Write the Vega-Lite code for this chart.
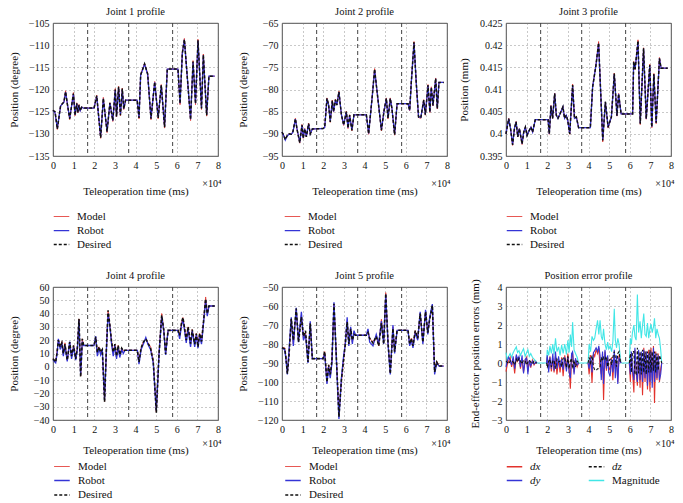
{
"$schema":"https://vega.github.io/schema/vega-lite/v6.json",
"padding":{"left":7,"top":6,"right":0,"bottom":0},
"datasets":{
"vlines":[{"t":1.68},{"t":3.67},{"t":5.8}],
"j1":[
{"t":0,"Model":-124.7,"Robot":-124.7,"Desired":-124.7},
{"t":0.1,"Model":-125.2,"Robot":-125.3,"Desired":-125.0},
{"t":0.21,"Model":-129.0,"Robot":-128.8,"Desired":-128.9},
{"t":0.37,"Model":-123.6,"Robot":-123.7,"Desired":-123.6},
{"t":0.53,"Model":-122.8,"Robot":-122.9,"Desired":-122.8},
{"t":0.61,"Model":-120.3,"Robot":-120.6,"Desired":-120.5},
{"t":0.7,"Model":-123.5,"Robot":-123.3,"Desired":-123.4},
{"t":0.81,"Model":-126.8,"Robot":-126.5,"Desired":-126.6},
{"t":0.99,"Model":-120.7,"Robot":-121.0,"Desired":-120.9},
{"t":1.07,"Model":-125.9,"Robot":-125.7,"Desired":-125.8},
{"t":1.15,"Model":-123.0,"Robot":-123.2,"Desired":-123.1},
{"t":1.2,"Model":-125.3,"Robot":-125.1,"Desired":-125.2},
{"t":1.26,"Model":-123.4,"Robot":-123.6,"Desired":-123.5},
{"t":1.32,"Model":-124.9,"Robot":-124.8,"Desired":-124.8},
{"t":1.39,"Model":-123.9,"Robot":-124.0,"Desired":-124.0},
{"t":1.47,"Model":-124.2,"Robot":-124.2,"Desired":-124.2},
{"t":1.99,"Model":-124.2,"Robot":-124.2,"Desired":-124.2},
{"t":2.12,"Model":-121.3,"Robot":-121.5,"Desired":-121.4},
{"t":2.31,"Model":-131.0,"Robot":-130.7,"Desired":-130.9},
{"t":2.44,"Model":-121.8,"Robot":-122.1,"Desired":-122.0},
{"t":2.62,"Model":-129.7,"Robot":-129.4,"Desired":-129.5},
{"t":2.76,"Model":-123.0,"Robot":-123.1,"Desired":-123.0},
{"t":2.9,"Model":-127.2,"Robot":-127.0,"Desired":-127.0},
{"t":3.02,"Model":-119.8,"Robot":-120.1,"Desired":-120.0},
{"t":3.08,"Model":-126.2,"Robot":-126.0,"Desired":-126.1},
{"t":3.18,"Model":-119.3,"Robot":-119.6,"Desired":-119.4},
{"t":3.27,"Model":-125.9,"Robot":-125.6,"Desired":-125.8},
{"t":3.36,"Model":-119.7,"Robot":-120.0,"Desired":-119.8},
{"t":3.43,"Model":-124.5,"Robot":-124.3,"Desired":-124.4},
{"t":3.52,"Model":-122.4,"Robot":-122.4,"Desired":-122.4},
{"t":4.08,"Model":-122.4,"Robot":-122.4,"Desired":-122.4},
{"t":4.17,"Model":-126.6,"Robot":-126.3,"Desired":-126.4},
{"t":4.25,"Model":-116.6,"Robot":-116.8,"Desired":-116.7},
{"t":4.44,"Model":-114.1,"Robot":-114.3,"Desired":-114.2},
{"t":4.59,"Model":-116.4,"Robot":-116.6,"Desired":-116.5},
{"t":4.75,"Model":-126.8,"Robot":-126.5,"Desired":-126.6},
{"t":4.93,"Model":-118.2,"Robot":-118.4,"Desired":-118.3},
{"t":5.1,"Model":-126.6,"Robot":-126.3,"Desired":-126.4},
{"t":5.25,"Model":-118.9,"Robot":-119.1,"Desired":-119.0},
{"t":5.41,"Model":-128.7,"Robot":-128.4,"Desired":-128.5},
{"t":5.54,"Model":-115.4,"Robot":-115.4,"Desired":-115.4},
{"t":6.06,"Model":-115.4,"Robot":-115.4,"Desired":-115.4},
{"t":6.16,"Model":-123.4,"Robot":-123.1,"Desired":-123.2},
{"t":6.27,"Model":-111.6,"Robot":-111.9,"Desired":-111.8},
{"t":6.37,"Model":-108.5,"Robot":-108.8,"Desired":-108.7},
{"t":6.67,"Model":-127.0,"Robot":-126.7,"Desired":-126.8},
{"t":6.79,"Model":-113.5,"Robot":-113.8,"Desired":-113.7},
{"t":6.91,"Model":-123.4,"Robot":-123.1,"Desired":-123.2},
{"t":7.03,"Model":-108.7,"Robot":-109.0,"Desired":-108.9},
{"t":7.2,"Model":-124.5,"Robot":-124.2,"Desired":-124.3},
{"t":7.29,"Model":-112.0,"Robot":-112.3,"Desired":-112.2},
{"t":7.45,"Model":-126.0,"Robot":-125.7,"Desired":-125.8},
{"t":7.56,"Model":-117.0,"Robot":-117.0,"Desired":-117.0},
{"t":7.84,"Model":-117.0,"Robot":-117.0,"Desired":-117.0}
],
"j2":[
{"t":0,"Model":-89.6,"Robot":-89.6,"Desired":-89.6},
{"t":0.08,"Model":-90.3,"Robot":-90.4,"Desired":-90.3},
{"t":0.16,"Model":-91.2,"Robot":-91.4,"Desired":-91.3},
{"t":0.25,"Model":-90.4,"Robot":-90.5,"Desired":-90.4},
{"t":0.34,"Model":-90.0,"Robot":-90.1,"Desired":-90.0},
{"t":0.45,"Model":-90.1,"Robot":-90.1,"Desired":-90.1},
{"t":0.53,"Model":-89.5,"Robot":-89.6,"Desired":-89.5},
{"t":0.65,"Model":-86.5,"Robot":-86.7,"Desired":-86.6},
{"t":0.73,"Model":-89.0,"Robot":-88.9,"Desired":-89.0},
{"t":0.86,"Model":-92.1,"Robot":-91.9,"Desired":-92.0},
{"t":0.97,"Model":-87.9,"Robot":-88.1,"Desired":-88.0},
{"t":1.03,"Model":-91.0,"Robot":-90.9,"Desired":-91.0},
{"t":1.1,"Model":-88.8,"Robot":-88.9,"Desired":-88.9},
{"t":1.18,"Model":-90.7,"Robot":-90.6,"Desired":-90.7},
{"t":1.29,"Model":-87.6,"Robot":-87.8,"Desired":-87.7},
{"t":1.37,"Model":-90.1,"Robot":-90.0,"Desired":-90.0},
{"t":1.47,"Model":-88.9,"Robot":-88.9,"Desired":-88.9},
{"t":1.99,"Model":-88.8,"Robot":-88.8,"Desired":-88.8},
{"t":2.07,"Model":-88.5,"Robot":-88.6,"Desired":-88.5},
{"t":2.18,"Model":-81.9,"Robot":-82.1,"Desired":-82.0},
{"t":2.26,"Model":-83.4,"Robot":-83.5,"Desired":-83.5},
{"t":2.34,"Model":-87.4,"Robot":-87.2,"Desired":-87.3},
{"t":2.44,"Model":-82.4,"Robot":-82.6,"Desired":-82.5},
{"t":2.5,"Model":-85.1,"Robot":-85.0,"Desired":-85.0},
{"t":2.59,"Model":-82.2,"Robot":-82.4,"Desired":-82.3},
{"t":2.66,"Model":-83.5,"Robot":-83.5,"Desired":-83.5},
{"t":2.76,"Model":-80.4,"Robot":-80.6,"Desired":-80.5},
{"t":2.88,"Model":-85.8,"Robot":-85.6,"Desired":-85.7},
{"t":2.99,"Model":-88.1,"Robot":-87.9,"Desired":-88.0},
{"t":3.12,"Model":-84.9,"Robot":-85.1,"Desired":-85.0},
{"t":3.2,"Model":-88.8,"Robot":-88.6,"Desired":-88.7},
{"t":3.28,"Model":-85.7,"Robot":-85.9,"Desired":-85.8},
{"t":3.39,"Model":-89.3,"Robot":-89.1,"Desired":-89.2},
{"t":3.49,"Model":-85.7,"Robot":-85.7,"Desired":-85.7},
{"t":4.09,"Model":-85.7,"Robot":-85.7,"Desired":-85.7},
{"t":4.2,"Model":-90.1,"Robot":-89.9,"Desired":-90.0},
{"t":4.38,"Model":-81.2,"Robot":-81.4,"Desired":-81.3},
{"t":4.49,"Model":-75.3,"Robot":-75.6,"Desired":-75.4},
{"t":4.6,"Model":-80.2,"Robot":-80.0,"Desired":-80.1},
{"t":4.82,"Model":-89.3,"Robot":-89.1,"Desired":-89.2},
{"t":4.95,"Model":-84.6,"Robot":-84.8,"Desired":-84.7},
{"t":5.06,"Model":-81.9,"Robot":-82.1,"Desired":-82.0},
{"t":5.14,"Model":-86.6,"Robot":-86.4,"Desired":-86.5},
{"t":5.25,"Model":-81.9,"Robot":-82.1,"Desired":-82.0},
{"t":5.33,"Model":-84.3,"Robot":-84.2,"Desired":-84.3},
{"t":5.46,"Model":-90.3,"Robot":-90.1,"Desired":-90.2},
{"t":5.58,"Model":-83.2,"Robot":-83.2,"Desired":-83.2},
{"t":6.11,"Model":-83.2,"Robot":-83.2,"Desired":-83.2},
{"t":6.19,"Model":-84.8,"Robot":-84.7,"Desired":-84.7},
{"t":6.27,"Model":-78.2,"Robot":-78.4,"Desired":-78.3},
{"t":6.4,"Model":-69.2,"Robot":-69.5,"Desired":-69.3},
{"t":6.51,"Model":-78.7,"Robot":-78.5,"Desired":-78.6},
{"t":6.62,"Model":-86.3,"Robot":-86.1,"Desired":-86.2},
{"t":6.73,"Model":-86.5,"Robot":-86.3,"Desired":-86.4},
{"t":6.87,"Model":-82.3,"Robot":-82.5,"Desired":-82.4},
{"t":6.95,"Model":-85.8,"Robot":-85.6,"Desired":-85.7},
{"t":7.08,"Model":-78.9,"Robot":-79.1,"Desired":-79.0},
{"t":7.17,"Model":-85.2,"Robot":-85.0,"Desired":-85.1},
{"t":7.24,"Model":-79.4,"Robot":-79.6,"Desired":-79.5},
{"t":7.32,"Model":-83.7,"Robot":-83.6,"Desired":-83.6},
{"t":7.45,"Model":-77.4,"Robot":-77.6,"Desired":-77.5},
{"t":7.53,"Model":-84.4,"Robot":-84.2,"Desired":-84.3},
{"t":7.61,"Model":-78.4,"Robot":-78.4,"Desired":-78.4},
{"t":7.84,"Model":-78.4,"Robot":-78.4,"Desired":-78.4}
],
"j3":[
{"t":0,"Model":0.4,"Robot":0.4,"Desired":0.4},
{"t":0.13,"Model":0.4035,"Robot":0.4034,"Desired":0.4034},
{"t":0.22,"Model":0.4013,"Robot":0.4012,"Desired":0.4012},
{"t":0.32,"Model":0.3974,"Robot":0.3976,"Desired":0.3975},
{"t":0.41,"Model":0.4012,"Robot":0.4012,"Desired":0.4012},
{"t":0.49,"Model":0.4028,"Robot":0.4027,"Desired":0.4027},
{"t":0.57,"Model":0.3993,"Robot":0.3994,"Desired":0.3993},
{"t":0.65,"Model":0.4012,"Robot":0.4012,"Desired":0.4012},
{"t":0.78,"Model":0.3976,"Robot":0.3978,"Desired":0.3977},
{"t":0.86,"Model":0.4004,"Robot":0.4004,"Desired":0.4004},
{"t":0.94,"Model":0.4016,"Robot":0.4015,"Desired":0.4015},
{"t":1.02,"Model":0.3996,"Robot":0.3997,"Desired":0.3996},
{"t":1.13,"Model":0.4008,"Robot":0.4008,"Desired":0.4008},
{"t":1.21,"Model":0.4016,"Robot":0.4015,"Desired":0.4015},
{"t":1.29,"Model":0.4003,"Robot":0.4004,"Desired":0.4004},
{"t":1.42,"Model":0.4032,"Robot":0.4032,"Desired":0.4032},
{"t":2.04,"Model":0.4032,"Robot":0.4032,"Desired":0.4032},
{"t":2.1,"Model":0.3999,"Robot":0.4,"Desired":0.4},
{"t":2.18,"Model":0.4064,"Robot":0.4063,"Desired":0.4063},
{"t":2.26,"Model":0.4035,"Robot":0.4035,"Desired":0.4035},
{"t":2.36,"Model":0.4092,"Robot":0.4091,"Desired":0.4091},
{"t":2.44,"Model":0.4042,"Robot":0.4042,"Desired":0.4042},
{"t":2.52,"Model":0.4035,"Robot":0.4035,"Desired":0.4035},
{"t":2.63,"Model":0.4046,"Robot":0.4046,"Desired":0.4046},
{"t":2.76,"Model":0.4062,"Robot":0.4061,"Desired":0.4061},
{"t":2.84,"Model":0.4035,"Robot":0.4035,"Desired":0.4035},
{"t":2.92,"Model":0.4042,"Robot":0.4042,"Desired":0.4042},
{"t":2.99,"Model":0.4031,"Robot":0.4031,"Desired":0.4031},
{"t":3.09,"Model":0.3999,"Robot":0.4,"Desired":0.4},
{"t":3.23,"Model":0.4112,"Robot":0.4109,"Desired":0.411},
{"t":3.32,"Model":0.4035,"Robot":0.4035,"Desired":0.4035},
{"t":3.41,"Model":0.4039,"Robot":0.4038,"Desired":0.4038},
{"t":3.52,"Model":0.4014,"Robot":0.4014,"Desired":0.4014},
{"t":4.09,"Model":0.4014,"Robot":0.4014,"Desired":0.4014},
{"t":4.2,"Model":0.4106,"Robot":0.4106,"Desired":0.4106},
{"t":4.36,"Model":0.4155,"Robot":0.4154,"Desired":0.4154},
{"t":4.49,"Model":0.4208,"Robot":0.4203,"Desired":0.4205},
{"t":4.59,"Model":0.4095,"Robot":0.4095,"Desired":0.4095},
{"t":4.69,"Model":0.3982,"Robot":0.3987,"Desired":0.3985},
{"t":4.82,"Model":0.4072,"Robot":0.4072,"Desired":0.4072},
{"t":4.95,"Model":0.4013,"Robot":0.4015,"Desired":0.4015},
{"t":5.11,"Model":0.4038,"Robot":0.4038,"Desired":0.4038},
{"t":5.25,"Model":0.4137,"Robot":0.4135,"Desired":0.4136},
{"t":5.38,"Model":0.404,"Robot":0.4041,"Desired":0.4041},
{"t":5.46,"Model":0.4091,"Robot":0.409,"Desired":0.409},
{"t":5.58,"Model":0.4045,"Robot":0.4045,"Desired":0.4045},
{"t":6.14,"Model":0.4045,"Robot":0.4045,"Desired":0.4045},
{"t":6.19,"Model":0.4163,"Robot":0.4162,"Desired":0.4163},
{"t":6.26,"Model":0.4145,"Robot":0.4146,"Desired":0.4146},
{"t":6.4,"Model":0.4212,"Robot":0.4207,"Desired":0.421},
{"t":6.51,"Model":0.4021,"Robot":0.4024,"Desired":0.4023},
{"t":6.67,"Model":0.4194,"Robot":0.4192,"Desired":0.4193},
{"t":6.8,"Model":0.4033,"Robot":0.4034,"Desired":0.4034},
{"t":6.97,"Model":0.4157,"Robot":0.4155,"Desired":0.4155},
{"t":7.07,"Model":0.4014,"Robot":0.4016,"Desired":0.4015},
{"t":7.17,"Model":0.4136,"Robot":0.4134,"Desired":0.4135},
{"t":7.28,"Model":0.4023,"Robot":0.4025,"Desired":0.4025},
{"t":7.44,"Model":0.4172,"Robot":0.417,"Desired":0.417},
{"t":7.52,"Model":0.4148,"Robot":0.4148,"Desired":0.4148},
{"t":7.84,"Model":0.4148,"Robot":0.4148,"Desired":0.4148}
],
"j4":[
{"t":0,"Model":6,"Robot":5,"Desired":6},
{"t":0.13,"Model":4,"Robot":3,"Desired":3.6},
{"t":0.2,"Model":12,"Robot":10,"Desired":11},
{"t":0.26,"Model":20,"Robot":21,"Desired":20},
{"t":0.35,"Model":15,"Robot":13,"Desired":15},
{"t":0.43,"Model":19,"Robot":18,"Desired":18},
{"t":0.5,"Model":10,"Robot":8,"Desired":10},
{"t":0.58,"Model":18,"Robot":16,"Desired":17},
{"t":0.69,"Model":5,"Robot":4,"Desired":5},
{"t":0.81,"Model":18,"Robot":19,"Desired":18.6},
{"t":0.9,"Model":8,"Robot":6,"Desired":8},
{"t":1.0,"Model":16,"Robot":15,"Desired":16},
{"t":1.1,"Model":6,"Robot":5,"Desired":6},
{"t":1.18,"Model":14,"Robot":13,"Desired":14},
{"t":1.26,"Model":36,"Robot":35,"Desired":36},
{"t":1.34,"Model":-7,"Robot":-6,"Desired":-7.6},
{"t":1.42,"Model":21,"Robot":19,"Desired":21},
{"t":1.49,"Model":16,"Robot":16,"Desired":16},
{"t":1.99,"Model":16,"Robot":16,"Desired":16},
{"t":2.07,"Model":22,"Robot":23,"Desired":22.5},
{"t":2.15,"Model":11,"Robot":8,"Desired":11},
{"t":2.23,"Model":15,"Robot":14,"Desired":15},
{"t":2.31,"Model":11,"Robot":9,"Desired":11},
{"t":2.39,"Model":13,"Robot":13,"Desired":13},
{"t":2.5,"Model":-26,"Robot":-25,"Desired":-26.5},
{"t":2.58,"Model":10,"Robot":9,"Desired":10},
{"t":2.67,"Model":42,"Robot":40,"Desired":42.5},
{"t":2.76,"Model":31,"Robot":30,"Desired":31},
{"t":2.84,"Model":19,"Robot":17,"Desired":19},
{"t":2.92,"Model":11,"Robot":8,"Desired":11},
{"t":3.0,"Model":17,"Robot":16,"Desired":17},
{"t":3.08,"Model":8,"Robot":6,"Desired":8},
{"t":3.16,"Model":16,"Robot":15,"Desired":16},
{"t":3.24,"Model":9,"Robot":7,"Desired":9},
{"t":3.33,"Model":14,"Robot":13,"Desired":14},
{"t":3.41,"Model":12,"Robot":10,"Desired":12},
{"t":3.49,"Model":12.4,"Robot":12.4,"Desired":12.4},
{"t":4.09,"Model":12.4,"Robot":12.4,"Desired":12.4},
{"t":4.17,"Model":4,"Robot":2,"Desired":3.6},
{"t":4.27,"Model":14,"Robot":13,"Desired":14},
{"t":4.38,"Model":18.6,"Robot":17,"Desired":18.6},
{"t":4.5,"Model":21,"Robot":22,"Desired":21},
{"t":4.6,"Model":18,"Robot":17,"Desired":18},
{"t":4.73,"Model":15,"Robot":13,"Desired":14},
{"t":4.86,"Model":5,"Robot":3,"Desired":4},
{"t":5.01,"Model":-34,"Robot":-33,"Desired":-34.5},
{"t":5.14,"Model":10,"Robot":9,"Desired":9.5},
{"t":5.27,"Model":40,"Robot":38,"Desired":38.7},
{"t":5.37,"Model":28,"Robot":27,"Desired":28},
{"t":5.46,"Model":10,"Robot":9,"Desired":9.6},
{"t":5.58,"Model":27.4,"Robot":27.4,"Desired":27.4},
{"t":6.06,"Model":27.4,"Robot":27.4,"Desired":27.4},
{"t":6.14,"Model":24,"Robot":21,"Desired":23.7},
{"t":6.24,"Model":34,"Robot":32,"Desired":33.7},
{"t":6.3,"Model":37,"Robot":36,"Desired":37},
{"t":6.38,"Model":29,"Robot":27,"Desired":29},
{"t":6.46,"Model":21,"Robot":18,"Desired":20},
{"t":6.55,"Model":30,"Robot":28,"Desired":30},
{"t":6.67,"Model":17,"Robot":15,"Desired":17.4},
{"t":6.75,"Model":28,"Robot":27,"Desired":28},
{"t":6.87,"Model":17,"Robot":15,"Desired":17},
{"t":6.95,"Model":25,"Robot":24,"Desired":25},
{"t":7.03,"Model":16,"Robot":14,"Desired":15},
{"t":7.11,"Model":25,"Robot":24,"Desired":25},
{"t":7.2,"Model":19,"Robot":17,"Desired":19},
{"t":7.28,"Model":31,"Robot":30,"Desired":31},
{"t":7.4,"Model":52.5,"Robot":50,"Desired":51},
{"t":7.48,"Model":40,"Robot":38,"Desired":40},
{"t":7.56,"Model":45.7,"Robot":45.7,"Desired":45.7},
{"t":7.84,"Model":45.7,"Robot":45.7,"Desired":45.7}
],
"j5":[
{"t":0,"Model":-82,"Robot":-82,"Desired":-82},
{"t":0.13,"Model":-82,"Robot":-83,"Desired":-82.5},
{"t":0.18,"Model":-86,"Robot":-87,"Desired":-86},
{"t":0.26,"Model":-95,"Robot":-96,"Desired":-95.6},
{"t":0.33,"Model":-87,"Robot":-85,"Desired":-87.5},
{"t":0.45,"Model":-67,"Robot":-66,"Desired":-66.7},
{"t":0.55,"Model":-80,"Robot":-81,"Desired":-78},
{"t":0.69,"Model":-62,"Robot":-61,"Desired":-61.4},
{"t":0.8,"Model":-78,"Robot":-79,"Desired":-79},
{"t":0.94,"Model":-65,"Robot":-63,"Desired":-65.8},
{"t":1.04,"Model":-77,"Robot":-78,"Desired":-76},
{"t":1.14,"Model":-74,"Robot":-75,"Desired":-73},
{"t":1.26,"Model":-89,"Robot":-90,"Desired":-89.5},
{"t":1.37,"Model":-69,"Robot":-68,"Desired":-69.3},
{"t":1.47,"Model":-87.7,"Robot":-87.7,"Desired":-87.7},
{"t":1.99,"Model":-87.7,"Robot":-87.7,"Desired":-87.7},
{"t":2.07,"Model":-84,"Robot":-85,"Desired":-84},
{"t":2.18,"Model":-100,"Robot":-101,"Desired":-100},
{"t":2.26,"Model":-91,"Robot":-92,"Desired":-91},
{"t":2.34,"Model":-97,"Robot":-98,"Desired":-96},
{"t":2.42,"Model":-89,"Robot":-90,"Desired":-89},
{"t":2.52,"Model":-59,"Robot":-58,"Desired":-58.8},
{"t":2.62,"Model":-83,"Robot":-84,"Desired":-83},
{"t":2.76,"Model":-117,"Robot":-119.5,"Desired":-118.4},
{"t":2.88,"Model":-100,"Robot":-98,"Desired":-99},
{"t":2.99,"Model":-88,"Robot":-86,"Desired":-88},
{"t":3.07,"Model":-79,"Robot":-80,"Desired":-80},
{"t":3.16,"Model":-68,"Robot":-66,"Desired":-68.4},
{"t":3.24,"Model":-80,"Robot":-81,"Desired":-80},
{"t":3.33,"Model":-72,"Robot":-71,"Desired":-72},
{"t":3.41,"Model":-79,"Robot":-80,"Desired":-78},
{"t":3.49,"Model":-74,"Robot":-73,"Desired":-75},
{"t":3.57,"Model":-75.4,"Robot":-75.4,"Desired":-75.4},
{"t":4.09,"Model":-75.4,"Robot":-75.4,"Desired":-75.4},
{"t":4.17,"Model":-73,"Robot":-72,"Desired":-74},
{"t":4.25,"Model":-77,"Robot":-79,"Desired":-77},
{"t":4.41,"Model":-79,"Robot":-81,"Desired":-79.5},
{"t":4.57,"Model":-76,"Robot":-75,"Desired":-76},
{"t":4.69,"Model":-81,"Robot":-80,"Desired":-81},
{"t":4.82,"Model":-67,"Robot":-68,"Desired":-69},
{"t":4.93,"Model":-79,"Robot":-80,"Desired":-80},
{"t":5.03,"Model":-53,"Robot":-54,"Desired":-53.5},
{"t":5.14,"Model":-79,"Robot":-80,"Desired":-79},
{"t":5.25,"Model":-95,"Robot":-96,"Desired":-95.6},
{"t":5.38,"Model":-71,"Robot":-70,"Desired":-71.9},
{"t":5.46,"Model":-84,"Robot":-85,"Desired":-84},
{"t":5.58,"Model":-72.8,"Robot":-72.8,"Desired":-72.8},
{"t":6.11,"Model":-72.8,"Robot":-72.8,"Desired":-72.8},
{"t":6.19,"Model":-80,"Robot":-81,"Desired":-80},
{"t":6.27,"Model":-77,"Robot":-78,"Desired":-77},
{"t":6.35,"Model":-81,"Robot":-82,"Desired":-81},
{"t":6.46,"Model":-73,"Robot":-74,"Desired":-73},
{"t":6.58,"Model":-77,"Robot":-78,"Desired":-77},
{"t":6.7,"Model":-64,"Robot":-63,"Desired":-64},
{"t":6.83,"Model":-79,"Robot":-80,"Desired":-79},
{"t":6.96,"Model":-63,"Robot":-62,"Desired":-63},
{"t":7.07,"Model":-74,"Robot":-75,"Desired":-74},
{"t":7.16,"Model":-67,"Robot":-66,"Desired":-67},
{"t":7.29,"Model":-60,"Robot":-59,"Desired":-59.6},
{"t":7.4,"Model":-94,"Robot":-96,"Desired":-94.7},
{"t":7.5,"Model":-89,"Robot":-90,"Desired":-89.5},
{"t":7.61,"Model":-91.6,"Robot":-91.6,"Desired":-91.6},
{"t":7.84,"Model":-91.6,"Robot":-91.6,"Desired":-91.6}
],
"err":[
{"t":0,"dx":-0.45,"dy":-0.2,"dz":0.1,"Magnitude":0.55},
{"t":0.06,"dx":-0.1,"dy":0.1,"dz":0.05,"Magnitude":0.2},
{"t":0.13,"dx":0.1,"dy":0.3,"dz":-0.05,"Magnitude":0.35},
{"t":0.2,"dx":0.3,"dy":0.15,"dz":0.1,"Magnitude":0.5},
{"t":0.27,"dx":-0.2,"dy":-0.1,"dz":0.15,"Magnitude":0.3},
{"t":0.35,"dx":0.2,"dy":0.35,"dz":0.05,"Magnitude":0.55},
{"t":0.42,"dx":-0.55,"dy":-0.3,"dz":-0.1,"Magnitude":0.7},
{"t":0.5,"dx":0.35,"dy":0.45,"dz":0.2,"Magnitude":0.85},
{"t":0.56,"dx":0.1,"dy":0.2,"dz":0.05,"Magnitude":0.55},
{"t":0.63,"dx":0.3,"dy":0.35,"dz":0.25,"Magnitude":0.65},
{"t":0.7,"dx":-0.3,"dy":-0.2,"dz":0.1,"Magnitude":0.4},
{"t":0.78,"dx":0.2,"dy":0.4,"dz":-0.05,"Magnitude":0.6},
{"t":0.85,"dx":-0.5,"dy":-0.55,"dz":0.15,"Magnitude":0.75},
{"t":0.93,"dx":0.15,"dy":0.2,"dz":0.1,"Magnitude":0.35},
{"t":1.0,"dx":0.3,"dy":0.25,"dz":-0.1,"Magnitude":0.55},
{"t":1.06,"dx":-0.45,"dy":-0.6,"dz":0.05,"Magnitude":0.7},
{"t":1.13,"dx":0.1,"dy":0.15,"dz":0.15,"Magnitude":0.35},
{"t":1.2,"dx":-0.25,"dy":-0.15,"dz":0.05,"Magnitude":0.5},
{"t":1.28,"dx":0.15,"dy":0.1,"dz":-0.05,"Magnitude":0.3},
{"t":1.36,"dx":-0.1,"dy":-0.05,"dz":0.1,"Magnitude":0.2},
{"t":1.45,"dx":0.05,"dy":0.05,"dz":0,"Magnitude":0.1},
{"t":1.5,"dx":0,"dy":0,"dz":0,"Magnitude":0},
{"t":1.75,"dx":null,"dy":null,"dz":null,"Magnitude":0},
{"t":1.97,"dx":0,"dy":0,"dz":0,"Magnitude":0},
{"t":2.0,"dx":0.3,"dy":0.4,"dz":-0.25,"Magnitude":0.7},
{"t":2.07,"dx":-0.3,"dy":-0.5,"dz":0.1,"Magnitude":0.4},
{"t":2.13,"dx":0.35,"dy":0.3,"dz":0.2,"Magnitude":0.9},
{"t":2.2,"dx":-0.45,"dy":-0.3,"dz":-0.2,"Magnitude":0.5},
{"t":2.27,"dx":0.25,"dy":0.5,"dz":0.1,"Magnitude":1.0},
{"t":2.33,"dx":-0.5,"dy":-0.4,"dz":0.15,"Magnitude":0.45},
{"t":2.4,"dx":0.35,"dy":0.6,"dz":-0.3,"Magnitude":1.3},
{"t":2.47,"dx":-0.6,"dy":-0.3,"dz":0.2,"Magnitude":0.6},
{"t":2.55,"dx":0.2,"dy":0.35,"dz":0.05,"Magnitude":0.85},
{"t":2.62,"dx":-0.5,"dy":-0.25,"dz":0.1,"Magnitude":0.4},
{"t":2.7,"dx":0.3,"dy":0.2,"dz":-0.2,"Magnitude":0.95},
{"t":2.77,"dx":-0.7,"dy":-0.35,"dz":0.25,"Magnitude":0.5},
{"t":2.85,"dx":0.4,"dy":0.3,"dz":0.3,"Magnitude":1.0},
{"t":2.93,"dx":-0.3,"dy":-0.45,"dz":-0.25,"Magnitude":0.45},
{"t":3.0,"dx":0.5,"dy":0.3,"dz":0.35,"Magnitude":1.2},
{"t":3.06,"dx":-0.2,"dy":-0.5,"dz":-0.3,"Magnitude":0.55},
{"t":3.12,"dx":-1.35,"dy":-0.8,"dz":0.1,"Magnitude":1.5},
{"t":3.18,"dx":0.3,"dy":0.5,"dz":0.25,"Magnitude":0.85},
{"t":3.23,"dx":0.5,"dy":0.6,"dz":-0.3,"Magnitude":2.15},
{"t":3.3,"dx":-0.5,"dy":-0.6,"dz":0.15,"Magnitude":0.7},
{"t":3.37,"dx":0.15,"dy":0.25,"dz":-0.2,"Magnitude":0.5},
{"t":3.45,"dx":-0.2,"dy":-0.1,"dz":0.1,"Magnitude":0.3},
{"t":3.52,"dx":0,"dy":0,"dz":0,"Magnitude":0},
{"t":3.75,"dx":null,"dy":null,"dz":null,"Magnitude":0},
{"t":3.98,"dx":0,"dy":0,"dz":0,"Magnitude":0},
{"t":4.03,"dx":-0.6,"dy":-0.3,"dz":0.3,"Magnitude":1.0},
{"t":4.1,"dx":0.4,"dy":0.3,"dz":-0.1,"Magnitude":0.6},
{"t":4.17,"dx":-1.05,"dy":-0.5,"dz":0.4,"Magnitude":1.4},
{"t":4.24,"dx":0.5,"dy":0.55,"dz":-0.2,"Magnitude":1.2},
{"t":4.3,"dx":0.35,"dy":0.65,"dz":-0.35,"Magnitude":1.3},
{"t":4.37,"dx":0.7,"dy":0.8,"dz":-0.4,"Magnitude":1.8},
{"t":4.44,"dx":0.5,"dy":0.6,"dz":-0.3,"Magnitude":2.25},
{"t":4.5,"dx":0.8,"dy":0.9,"dz":-0.3,"Magnitude":1.5},
{"t":4.56,"dx":-0.2,"dy":0.4,"dz":-0.2,"Magnitude":2.25},
{"t":4.62,"dx":-0.6,"dy":-0.9,"dz":0.3,"Magnitude":1.4},
{"t":4.68,"dx":0.5,"dy":0.6,"dz":0.1,"Magnitude":1.2},
{"t":4.73,"dx":-1.95,"dy":-1.1,"dz":0.3,"Magnitude":1.8},
{"t":4.8,"dx":0.6,"dy":0.7,"dz":0.2,"Magnitude":1.0},
{"t":4.87,"dx":-0.4,"dy":-0.3,"dz":0.35,"Magnitude":0.7},
{"t":4.93,"dx":0.3,"dy":0.4,"dz":-0.2,"Magnitude":1.1},
{"t":4.98,"dx":-0.2,"dy":-0.5,"dz":0.1,"Magnitude":0.75},
{"t":5.05,"dx":-0.4,"dy":-0.7,"dz":0.2,"Magnitude":0.9},
{"t":5.12,"dx":0.3,"dy":0.2,"dz":-0.1,"Magnitude":0.6},
{"t":5.18,"dx":-0.9,"dy":-0.5,"dz":0.3,"Magnitude":1.1},
{"t":5.25,"dx":0.4,"dy":0.7,"dz":0.6,"Magnitude":2.85},
{"t":5.3,"dx":-0.3,"dy":-0.8,"dz":0.3,"Magnitude":1.2},
{"t":5.36,"dx":0.2,"dy":0.4,"dz":-0.2,"Magnitude":0.8},
{"t":5.42,"dx":-1.0,"dy":-1.1,"dz":0.5,"Magnitude":1.3},
{"t":5.48,"dx":0.4,"dy":0.3,"dz":0.6,"Magnitude":1.0},
{"t":5.54,"dx":0.1,"dy":0.05,"dz":0.1,"Magnitude":0.3},
{"t":5.58,"dx":0,"dy":0,"dz":0,"Magnitude":0},
{"t":5.8,"dx":null,"dy":null,"dz":null,"Magnitude":0},
{"t":5.98,"dx":0,"dy":0,"dz":0,"Magnitude":0},
{"t":6.03,"dx":-1.0,"dy":-0.6,"dz":0.5,"Magnitude":1.3},
{"t":6.08,"dx":0.5,"dy":0.6,"dz":-0.5,"Magnitude":1.0},
{"t":6.13,"dx":-0.4,"dy":-0.3,"dz":0.6,"Magnitude":1.6},
{"t":6.2,"dx":-1.55,"dy":-0.9,"dz":0.6,"Magnitude":2.0},
{"t":6.25,"dx":0.7,"dy":0.8,"dz":-0.6,"Magnitude":1.4},
{"t":6.31,"dx":-0.5,"dy":-0.4,"dz":-0.6,"Magnitude":1.2},
{"t":6.37,"dx":-1.2,"dy":-1.0,"dz":0.8,"Magnitude":3.6},
{"t":6.43,"dx":0.6,"dy":0.7,"dz":-0.55,"Magnitude":1.6},
{"t":6.5,"dx":-1.3,"dy":-0.9,"dz":0.6,"Magnitude":2.2},
{"t":6.56,"dx":0.5,"dy":0.6,"dz":-0.6,"Magnitude":1.3},
{"t":6.62,"dx":-1.7,"dy":-1.0,"dz":0.7,"Magnitude":2.0},
{"t":6.68,"dx":0.8,"dy":0.7,"dz":-0.5,"Magnitude":2.6},
{"t":6.74,"dx":-1.0,"dy":-0.8,"dz":0.6,"Magnitude":1.5},
{"t":6.8,"dx":0.6,"dy":0.6,"dz":-0.6,"Magnitude":1.4},
{"t":6.86,"dx":-1.4,"dy":-1.2,"dz":0.6,"Magnitude":2.1},
{"t":6.92,"dx":0.7,"dy":0.5,"dz":-0.5,"Magnitude":1.3},
{"t":6.98,"dx":-1.5,"dy":-1.0,"dz":0.7,"Magnitude":1.8},
{"t":7.03,"dx":0.8,"dy":0.6,"dz":-0.5,"Magnitude":2.05},
{"t":7.09,"dx":-0.9,"dy":-1.3,"dz":0.6,"Magnitude":1.6},
{"t":7.15,"dx":0.9,"dy":0.8,"dz":-0.4,"Magnitude":1.9},
{"t":7.2,"dx":-2.1,"dy":-1.0,"dz":0.6,"Magnitude":2.35},
{"t":7.26,"dx":0.6,"dy":0.5,"dz":-0.5,"Magnitude":1.3},
{"t":7.32,"dx":-0.9,"dy":-0.8,"dz":0.5,"Magnitude":1.8},
{"t":7.38,"dx":0.5,"dy":0.4,"dz":-0.4,"Magnitude":1.5},
{"t":7.44,"dx":-1.0,"dy":-0.9,"dz":0.4,"Magnitude":1.3},
{"t":7.5,"dx":-0.3,"dy":-0.6,"dz":0.2,"Magnitude":0.7},
{"t":7.55,"dx":0,"dy":0,"dz":0,"Magnitude":0}
]
},
"vconcat":[
{"hconcat":[
 {"width":165,"height":133,"title":"Joint 1 profile",
  "layer":[
   {"data":{"name":"vlines"},"mark":{"type":"rule","strokeDash":[4,3],"color":"#444","strokeWidth":1},
    "encoding":{"x":{"field":"t","type":"quantitative","scale":{"domain":[0,8],"nice":false},
      "axis":{"orient":"bottom","title":"×10⁴","labels":false,"grid":false,"ticks":false,"domain":false,"titleX":168,"titleY":27,"titleAlign":"right","titleBaseline":"middle","titleFontSize":10}}}},
   {"data":{"name":"j1"},"transform":[{"fold":["Model","Robot","Desired"],"as":["series","v"]}],
    "mark":{"type":"line"},
    "encoding":{
     "x":{"field":"t","type":"quantitative","scale":{"domain":[0,8],"nice":false},"axis":{"orient":"bottom","values":[0,1,2,3,4,5,6,7,8],"title":"Teleoperation time (ms)","titleY":35,"titleBaseline":"middle","labelFlush":false,"grid":true}},
     "y":{"field":"v","type":"quantitative","scale":{"domain":[-135,-105],"nice":false,"zero":false},"axis":{"values":[-135,-130,-125,-120,-115,-110,-105],"title":"Position (degree)","titleX":-39,"titleBaseline":"middle","grid":true}},
     "color":{"field":"series","type":"nominal","scale":{"domain":["Model","Robot","Desired"],"range":["#e2322c","#3434d6","#111111"]},"legend":{"title":null,"legendX":0,"legendY":185}},
     "strokeDash":{"field":"series","type":"nominal","scale":{"domain":["Model","Robot","Desired"],"range":[[1,0],[1,0],[3,2]]},"legend":{"title":null,"legendX":0,"legendY":185}},
     "strokeWidth":{"field":"series","type":"nominal","scale":{"domain":["Model","Robot","Desired"],"range":[1,1.5,1]},"legend":null}
    }}
  ],
  "resolve":{"axis":{"x":"independent"}}
 },
 {"hconcat":[
 {"width":165,"height":133,"title":"Joint 2 profile",
  "layer":[
   {"data":{"name":"vlines"},"mark":{"type":"rule","strokeDash":[4,3],"color":"#444","strokeWidth":1},
    "encoding":{"x":{"field":"t","type":"quantitative","scale":{"domain":[0,8],"nice":false},
      "axis":{"orient":"bottom","title":"×10⁴","labels":false,"grid":false,"ticks":false,"domain":false,"titleX":168,"titleY":27,"titleAlign":"right","titleBaseline":"middle","titleFontSize":10}}}},
   {"data":{"name":"j2"},"transform":[{"fold":["Model","Robot","Desired"],"as":["series","v"]}],
    "mark":{"type":"line"},
    "encoding":{
     "x":{"field":"t","type":"quantitative","scale":{"domain":[0,8],"nice":false},"axis":{"orient":"bottom","values":[0,1,2,3,4,5,6,7,8],"title":"Teleoperation time (ms)","titleY":35,"titleBaseline":"middle","labelFlush":false,"grid":true}},
     "y":{"field":"v","type":"quantitative","scale":{"domain":[-95,-65],"nice":false,"zero":false},"axis":{"values":[-95,-90,-85,-80,-75,-70,-65],"title":"Position (degree)","titleX":-39,"titleBaseline":"middle","grid":true}},
     "color":{"field":"series","type":"nominal","scale":{"domain":["Model","Robot","Desired"],"range":["#e2322c","#3434d6","#111111"]},"legend":{"title":null,"legendX":2,"legendY":185}},
     "strokeDash":{"field":"series","type":"nominal","scale":{"domain":["Model","Robot","Desired"],"range":[[1,0],[1,0],[3,2]]},"legend":{"title":null,"legendX":2,"legendY":185}},
     "strokeWidth":{"field":"series","type":"nominal","scale":{"domain":["Model","Robot","Desired"],"range":[1,1.5,1]},"legend":null}
    }}
  ],
  "resolve":{"axis":{"x":"independent"}}
 },
 {"width":165,"height":133,"title":"Joint 3 profile",
  "layer":[
   {"data":{"name":"vlines"},"mark":{"type":"rule","strokeDash":[4,3],"color":"#444","strokeWidth":1},
    "encoding":{"x":{"field":"t","type":"quantitative","scale":{"domain":[0,8],"nice":false},
      "axis":{"orient":"bottom","title":"×10⁴","labels":false,"grid":false,"ticks":false,"domain":false,"titleX":168,"titleY":27,"titleAlign":"right","titleBaseline":"middle","titleFontSize":10}}}},
   {"data":{"name":"j3"},"transform":[{"fold":["Model","Robot","Desired"],"as":["series","v"]}],
    "mark":{"type":"line"},
    "encoding":{
     "x":{"field":"t","type":"quantitative","scale":{"domain":[0,8],"nice":false},"axis":{"orient":"bottom","values":[0,1,2,3,4,5,6,7,8],"title":"Teleoperation time (ms)","titleY":35,"titleBaseline":"middle","labelFlush":false,"grid":true}},
     "y":{"field":"v","type":"quantitative","scale":{"domain":[0.395,0.425],"nice":false,"zero":false},"axis":{"values":[0.395,0.4,0.405,0.41,0.415,0.42,0.425],"format":"~g","title":"Position (mm)","titleX":-42,"titleBaseline":"middle","grid":true}},
     "color":{"field":"series","type":"nominal","scale":{"domain":["Model","Robot","Desired"],"range":["#e2322c","#3434d6","#111111"]},"legend":{"title":null,"legendX":0,"legendY":185}},
     "strokeDash":{"field":"series","type":"nominal","scale":{"domain":["Model","Robot","Desired"],"range":[[1,0],[1,0],[3,2]]},"legend":{"title":null,"legendX":0,"legendY":185}},
     "strokeWidth":{"field":"series","type":"nominal","scale":{"domain":["Model","Robot","Desired"],"range":[1,1.5,1]},"legend":null}
    }}
  ],
  "resolve":{"axis":{"x":"independent"}}
 }
 ],"spacing":6,"resolve":{"scale":{"color":"independent","strokeDash":"independent","strokeWidth":"independent"}}}
 ],"spacing":14,"resolve":{"scale":{"color":"independent","strokeDash":"independent","strokeWidth":"independent"}}},
{"hconcat":[
 {"width":165,"height":133,"title":"Joint 4 profile",
  "layer":[
   {"data":{"name":"vlines"},"mark":{"type":"rule","strokeDash":[4,3],"color":"#444","strokeWidth":1},
    "encoding":{"x":{"field":"t","type":"quantitative","scale":{"domain":[0,8],"nice":false},
      "axis":{"orient":"bottom","title":"×10⁴","labels":false,"grid":false,"ticks":false,"domain":false,"titleX":168,"titleY":23,"titleAlign":"right","titleBaseline":"middle","titleFontSize":10}}}},
   {"data":{"name":"j4"},"transform":[{"fold":["Model","Robot","Desired"],"as":["series","v"]}],
    "mark":{"type":"line"},
    "encoding":{
     "x":{"field":"t","type":"quantitative","scale":{"domain":[0,8],"nice":false},"axis":{"orient":"bottom","values":[0,1,2,3,4,5,6,7,8],"title":"Teleoperation time (ms)","titleY":30,"titleBaseline":"middle","labelFlush":false,"grid":true}},
     "y":{"field":"v","type":"quantitative","scale":{"domain":[-40,60],"nice":false,"zero":false},"axis":{"values":[-40,-30,-20,-10,0,10,20,30,40,50,60],"title":"Position (degree)","titleX":-39,"titleBaseline":"middle","grid":true}},
     "color":{"field":"series","type":"nominal","scale":{"domain":["Model","Robot","Desired"],"range":["#e2322c","#3434d6","#111111"]},"legend":{"title":null,"legendX":0,"legendY":171}},
     "strokeDash":{"field":"series","type":"nominal","scale":{"domain":["Model","Robot","Desired"],"range":[[1,0],[1,0],[3,2]]},"legend":{"title":null,"legendX":0,"legendY":171}},
     "strokeWidth":{"field":"series","type":"nominal","scale":{"domain":["Model","Robot","Desired"],"range":[1,1.6,1]},"legend":null}
    }}
  ],
  "resolve":{"axis":{"x":"independent"}}
 },
 {"hconcat":[
 {"width":165,"height":133,"title":"Joint 5 profile",
  "layer":[
   {"data":{"name":"vlines"},"mark":{"type":"rule","strokeDash":[4,3],"color":"#444","strokeWidth":1},
    "encoding":{"x":{"field":"t","type":"quantitative","scale":{"domain":[0,8],"nice":false},
      "axis":{"orient":"bottom","title":"×10⁴","labels":false,"grid":false,"ticks":false,"domain":false,"titleX":168,"titleY":23,"titleAlign":"right","titleBaseline":"middle","titleFontSize":10}}}},
   {"data":{"name":"j5"},"transform":[{"fold":["Model","Robot","Desired"],"as":["series","v"]}],
    "mark":{"type":"line"},
    "encoding":{
     "x":{"field":"t","type":"quantitative","scale":{"domain":[0,8],"nice":false},"axis":{"orient":"bottom","values":[0,1,2,3,4,5,6,7,8],"title":"Teleoperation time (ms)","titleY":30,"titleBaseline":"middle","labelFlush":false,"grid":true}},
     "y":{"field":"v","type":"quantitative","scale":{"domain":[-120,-50],"nice":false,"zero":false},"axis":{"values":[-120,-110,-100,-90,-80,-70,-60,-50],"title":"Position (degree)","titleX":-39,"titleBaseline":"middle","grid":true}},
     "color":{"field":"series","type":"nominal","scale":{"domain":["Model","Robot","Desired"],"range":["#e2322c","#3434d6","#111111"]},"legend":{"title":null,"legendX":2,"legendY":171}},
     "strokeDash":{"field":"series","type":"nominal","scale":{"domain":["Model","Robot","Desired"],"range":[[1,0],[1,0],[3,2]]},"legend":{"title":null,"legendX":2,"legendY":171}},
     "strokeWidth":{"field":"series","type":"nominal","scale":{"domain":["Model","Robot","Desired"],"range":[1,1.6,1]},"legend":null}
    }}
  ],
  "resolve":{"axis":{"x":"independent"}}
 },
 {"width":165,"height":133,"title":{"text":"Position error profile","offset":-3},
  "layer":[
   {"data":{"name":"vlines"},"mark":{"type":"rule","strokeDash":[4,3],"color":"#444","strokeWidth":1},
    "encoding":{"x":{"field":"t","type":"quantitative","scale":{"domain":[0,8],"nice":false},
      "axis":{"orient":"bottom","title":"×10⁴","labels":false,"grid":false,"ticks":false,"domain":false,"titleX":168,"titleY":23,"titleAlign":"right","titleBaseline":"middle","titleFontSize":10}}}},
   {"data":{"name":"err"},"transform":[{"fold":["Magnitude","dx","dy","dz"],"as":["series","v"]}],
    "mark":{"type":"line","strokeWidth":1.1},
    "encoding":{
     "x":{"field":"t","type":"quantitative","scale":{"domain":[0,8],"nice":false},"axis":{"orient":"bottom","values":[0,1,2,3,4,5,6,7,8],"title":"Teleoperation time (ms)","titleY":30,"titleBaseline":"middle","labelFlush":false,"grid":true}},
     "y":{"field":"v","type":"quantitative","scale":{"domain":[-3,4],"nice":false,"zero":false},"axis":{"values":[-3,-2,-1,0,1,2,3,4],"title":"End-effector position errors (mm)","titleX":-31,"titleBaseline":"middle","grid":true}},
     "color":{"field":"series","type":"nominal","scale":{"domain":["dx","dy","dz","Magnitude"],"range":["#e2322c","#3434d6","#111111","#40e6e6"]},"legend":{"title":null,"legendX":0,"legendY":171,"columns":2,"columnPadding":45,"encode":{"labels":{"update":{"fontStyle":{"signal":"datum.label === 'Magnitude' ? 'normal' : 'italic'"}}}}}},
     "strokeDash":{"field":"series","type":"nominal","scale":{"domain":["dx","dy","dz","Magnitude"],"range":[[1,0],[1,0],[3,2],[1,0]]},"legend":{"title":null,"legendX":0,"legendY":171,"columns":2,"columnPadding":45,"encode":{"labels":{"update":{"fontStyle":{"signal":"datum.label === 'Magnitude' ? 'normal' : 'italic'"}}}}}}
    }}
  ],
  "resolve":{"axis":{"x":"independent"}}
 }
 ],"spacing":17,"resolve":{"scale":{"color":"independent","strokeDash":"independent","strokeWidth":"independent"}}}
 ],"spacing":14,"resolve":{"scale":{"color":"independent","strokeDash":"independent","strokeWidth":"independent"}}}
],
"spacing":19,
"resolve":{"scale":{"color":"independent","strokeDash":"independent","strokeWidth":"independent"}},
"config":{
 "font":"Liberation Serif",
 "view":{"stroke":"#222","strokeWidth":0.8},
 "axis":{"labelFont":"Liberation Serif","labelFontSize":10,"labelColor":"#111","titleFont":"Liberation Serif","titleFontSize":11,"titleFontWeight":"normal","titleColor":"#111","ticks":false,"domain":false,"gridColor":"#777","gridDash":[1,3],"gridWidth":0.8,"gridOpacity":1,"labelPadding":4,"labelOverlap":false},
 "title":{"font":"Liberation Serif","fontSize":10.5,"fontWeight":"normal","color":"#111","offset":1,"frame":"group"},
 "legend":{"orient":"none","direction":"vertical","symbolType":"stroke","symbolSize":240,"symbolStrokeWidth":1.3,"labelFont":"Liberation Serif","labelFontSize":11,"labelColor":"#111","rowPadding":0,"labelOffset":7,"padding":0}
}
}
